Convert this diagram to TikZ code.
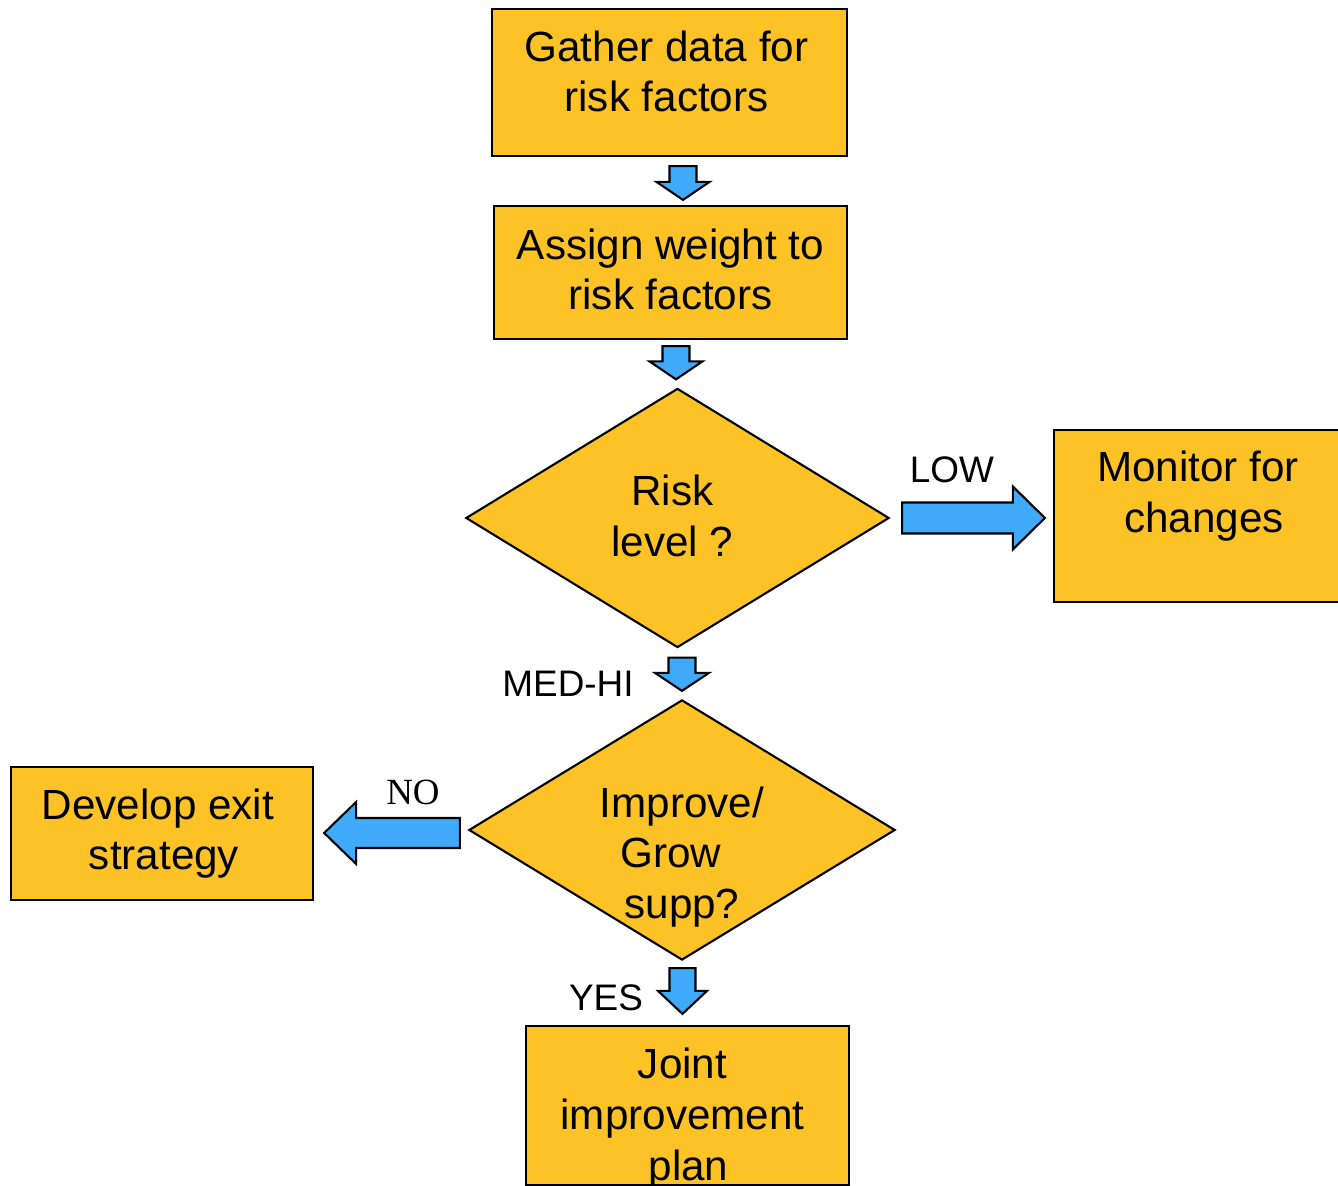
\documentclass[tikz,border=0pt]{standalone}
\usepackage{fontspec}
\setmainfont{Liberation Sans}
\newfontfamily\nofont{Liberation Serif}
\usetikzlibrary{shapes.geometric,calc}

\definecolor{boxorange}{RGB}{253,195,38}
\definecolor{arrowblue}{RGB}{64,170,250}

\tikzset{
  stepbox/.style={rectangle, draw=black, fill=boxorange, line width=0.6pt, inner sep=0pt},
  decision/.style={diamond, draw=black, fill=boxorange, line width=0.6pt, inner sep=0pt},
  boxtext/.style={font=\fontsize{12}{14.4}\selectfont, align=center},
  tag/.style={font=\fontsize{10.5}{12}\selectfont},
  blk/.style={draw=black, fill=arrowblue, line width=0.6pt, line join=miter}
}

% block arrow: from, to, half shaft, half head, head length
\newcommand\blkarrow[5]{%
  \coordinate (hb) at ($(#2)!#5!(#1)$);
  \draw[blk] ($(#1)!#3!90:(#2)$) -- ($(hb)!#3!90:(#2)$) -- ($(hb)!#4!90:(#2)$)
    -- (#2) -- ($(hb)!#4!-90:(#2)$) -- ($(hb)!#3!-90:(#2)$) -- ($(#1)!#3!-90:(#2)$) -- cycle;
}

\begin{document}
\begin{tikzpicture}[x=0.01cm, y=-0.01cm]
  \clip (0,0) rectangle (1338,1186);

  % boxes and decisions
  \node[stepbox, minimum width=3.55cm, minimum height=1.47cm,
    label={[boxtext, yshift=0.11cm, xshift=-0.03cm]center:{Gather data for\\risk factors}}] (gather) at (669.5,82.5) {};
  \node[stepbox, minimum width=3.53cm, minimum height=1.33cm,
    label={[boxtext, yshift=0.03cm]center:{Assign weight to\\risk factors}}] (weight) at (670.5,272.5) {};
  \node[decision, minimum width=4.23cm, minimum height=2.59cm,
    label={[boxtext, yshift=0.02cm, xshift=-0.05cm]center:{Risk\\level ?}}] (risk) at (677.5,518) {};
  \node[stepbox, minimum width=2.92cm, minimum height=1.72cm,
    label={[boxtext, yshift=0.20cm, xshift=-0.02cm]center:{Monitor for\\\hspace*{0.12cm}changes}}] (monitor) at (1200,516) {};
  \node[decision, minimum width=4.26cm, minimum height=2.60cm,
    label={[boxtext, yshift=-0.27cm]center:{Improve/\\Grow\rule{0.22cm}{0pt}\\supp?}}] (improve) at (682,830) {};
  \node[stepbox, minimum width=3.02cm, minimum height=1.33cm,
    label={[boxtext, xshift=-0.04cm]center:{Develop exit\\\hspace*{0.12cm}strategy}}] (develop) at (162,833.5) {};
  \node[stepbox, minimum width=3.23cm, minimum height=1.59cm,
    label={[boxtext, yshift=-0.13cm, xshift=-0.05cm]center:{Joint\\improvement\\\hspace*{0.12cm}plan}}] (joint) at (687.5,1105.5) {};

  % block arrows
  \coordinate (a1s) at ($(gather.south)+(13.5,9)$);
  \coordinate (a1e) at ($(weight.north)+(12.5,-5)$);
  \blkarrow{a1s}{a1e}{0.135cm}{0.265cm}{0.18cm}
  \coordinate (a2s) at ($(weight.south)+(5.5,6)$);
  \coordinate (a2e) at ($(risk.north)+(-1.5,-8)$);
  \blkarrow{a2s}{a2e}{0.135cm}{0.265cm}{0.18cm}
  \coordinate (lows) at ($(risk.east)+(12,0)$);
  \coordinate (lowe) at ($(monitor.west)+(-8,2)$);
  \blkarrow{lows}{lowe}{0.155cm}{0.315cm}{0.32cm}
  \coordinate (meds) at ($(risk.south)+(4.5,9)$);
  \coordinate (mede) at ($(improve.north)+(0,-8)$);
  \blkarrow{meds}{mede}{0.135cm}{0.27cm}{0.18cm}
  \coordinate (nos) at ($(improve.west)+(-8,3)$);
  \coordinate (noe) at ($(develop.east)+(10,-0.5)$);
  \blkarrow{nos}{noe}{0.15cm}{0.31cm}{0.32cm}
  \coordinate (yess) at ($(improve.south)+(0.5,7)$);
  \coordinate (yese) at ($(joint.north)+(-5,-11)$);
  \blkarrow{yess}{yese}{0.13cm}{0.245cm}{0.23cm}

  % branch tags
  \node[tag] (low) at (952,470) {LOW};
  \node[tag] (medhi) at (568,684) {MED-HI};
  \node[tag, font=\fontsize{10.5}{12}\nofont] (no) at (413,792) {NO};
  \node[tag] (yes) at (606,998) {YES};
\end{tikzpicture}
\end{document}
